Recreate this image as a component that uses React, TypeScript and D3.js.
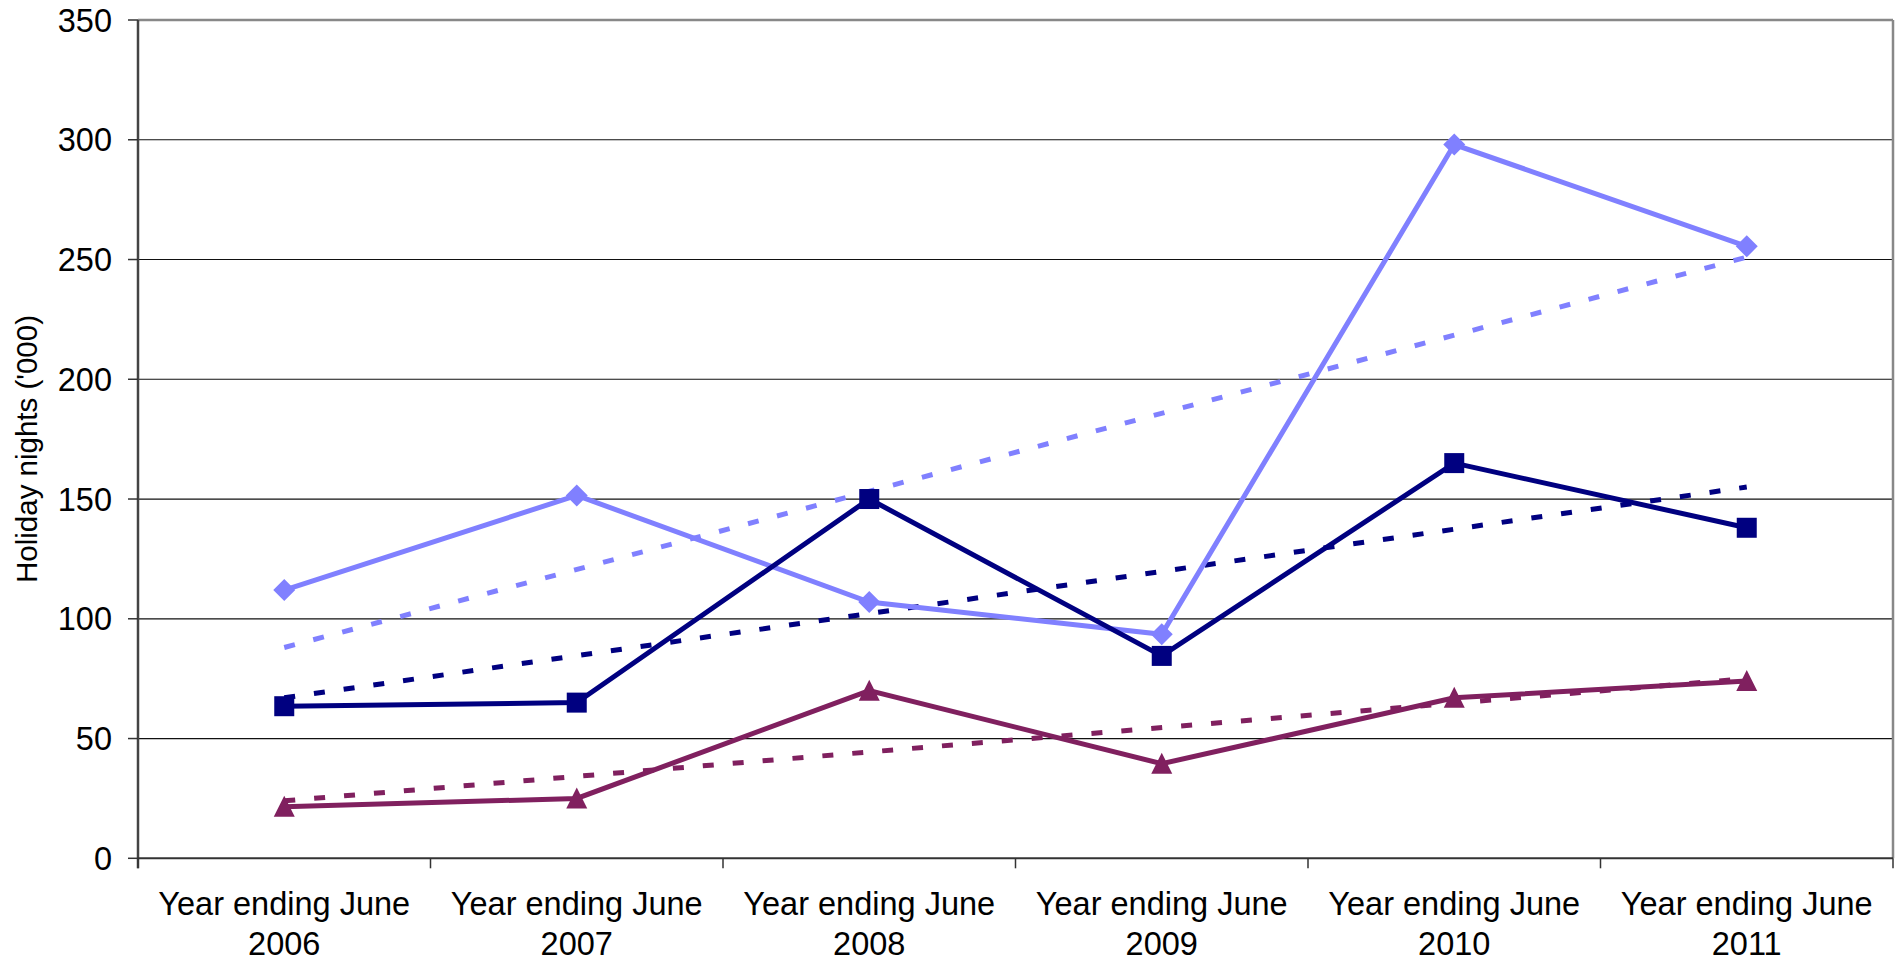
import React from "react";
import * as d3 from "d3";

const categories = ["2006", "2007", "2008", "2009", "2010", "2011"];
const categoryPrefix = "Year ending June";
const seriesLight = [112, 151.5, 107, 93.5, 298, 255.5];
const seriesNavy = [63.5, 65, 150, 84.5, 165, 138];
const seriesPlum = [21.5, 25, 70, 39.5, 67, 74];
// trend lines: value at first and last category
const trendLight = [88, 251];
const trendNavy = [67, 155];
const trendPlum = [24, 75];
const yTicks = [0, 50, 100, 150, 200, 250, 300, 350];
const yTitle = "Holiday nights ('000)";

const W = 1904;
const H = 968;
const left = 138;
const right = 1893;
const top = 20;
const bottom = 858.3;

export default function App() {
  const xBand = d3.scaleBand<string>().domain(categories).range([left, right]).padding(0);
  const xc = (c: string) => (xBand(c) as number) + xBand.bandwidth() / 2;
  const y = d3.scaleLinear().domain([0, 350]).range([bottom, top]);
  const line = d3
    .line<[string, number]>()
    .x((d) => xc(d[0]))
    .y((d) => y(d[1]));

  const series = [
    { vals: seriesLight, trend: trendLight, color: "#8080FF", shape: "diamond" },
    { vals: seriesNavy, trend: trendNavy, color: "#000080", shape: "square" },
    { vals: seriesPlum, trend: trendPlum, color: "#80205F", shape: "triangle" },
  ];

  const font = "'Liberation Sans', Arial, sans-serif";
  const first = categories[0];
  const last = categories[categories.length - 1];
  const bounds = [...categories.map((c) => xBand(c) as number), right];

  const marker = (shape: string, cx: number, cy: number, color: string, key: string) => {
    if (shape === "square")
      return <rect key={key} x={cx - 10} y={cy - 10} width={20} height={20} fill={color} />;
    if (shape === "diamond")
      return (
        <path key={key} d={`M${cx},${cy - 11}L${cx + 11},${cy}L${cx},${cy + 11}L${cx - 11},${cy}Z`} fill={color} />
      );
    return (
      <path key={key} d={`M${cx},${cy - 11}L${cx + 10.5},${cy + 10}L${cx - 10.5},${cy + 10}Z`} fill={color} />
    );
  };

  return (
    <svg width={W} height={H} style={{ position: "absolute", left: 0, top: 0, background: "#fff" }} fontFamily={font}>
      <rect x={0} y={0} width={W} height={H} fill="#fff" />
      {/* gridlines */}
      {yTicks.slice(1, -1).map((t) => (
        <line key={t} x1={left} x2={right} y1={y(t)} y2={y(t)} stroke="#111" strokeWidth={1.2} />
      ))}
      {/* plot frame top and right */}
      <line x1={left} x2={right} y1={y(350)} y2={y(350)} stroke="#888" strokeWidth={2.5} />
      <line x1={right} x2={right} y1={top} y2={bottom} stroke="#888" strokeWidth={2.5} />
      {/* y axis */}
      <line x1={left} x2={left} y1={top} y2={bottom + 10} stroke="#444" strokeWidth={2.5} />
      {yTicks.map((t) => (
        <g key={t}>
          <line x1={left - 10} x2={left} y1={y(t)} y2={y(t)} stroke="#333" strokeWidth={1.5} />
          <text x={112} y={y(t) + 11.5} textAnchor="end" fontSize={32.5} fill="#000">
            {t}
          </text>
        </g>
      ))}
      {/* x axis */}
      <line x1={left} x2={right} y1={bottom} y2={bottom} stroke="#333" strokeWidth={2} />
      {bounds.map((b, i) => (
        <line key={i} x1={b} x2={b} y1={bottom} y2={bottom + 10} stroke="#333" strokeWidth={1.5} />
      ))}
      {categories.map((c) => (
        <text key={c} x={xc(c)} textAnchor="middle" fontSize={32.5} fill="#000">
          <tspan x={xc(c)} y={915}>
            {categoryPrefix}
          </tspan>
          <tspan x={xc(c)} y={955}>
            {c}
          </tspan>
        </text>
      ))}
      <text
        transform={`translate(37,449) rotate(-90)`}
        textAnchor="middle"
        fontSize={29.5}
        fill="#000"
      >
        {yTitle}
      </text>
      {/* trend lines */}
      {series.map((s, i) => (
        <path
          key={"t" + i}
          d={line([
            [first, s.trend[0]],
            [last, s.trend[1]],
          ]) as string}
          fill="none"
          stroke={s.color}
          strokeWidth={5}
          strokeDasharray="11 19"
        />
      ))}
      {/* series lines */}
      {series.map((s, i) => (
        <g key={"s" + i}>
          <path
            d={line(categories.map((c, j) => [c, s.vals[j]] as [string, number])) as string}
            fill="none"
            stroke={s.color}
            strokeWidth={5}
            strokeLinejoin="miter"
          />
          {categories.map((c, j) => marker(s.shape, xc(c), y(s.vals[j]), s.color, c))}
        </g>
      ))}
    </svg>
  );
}
